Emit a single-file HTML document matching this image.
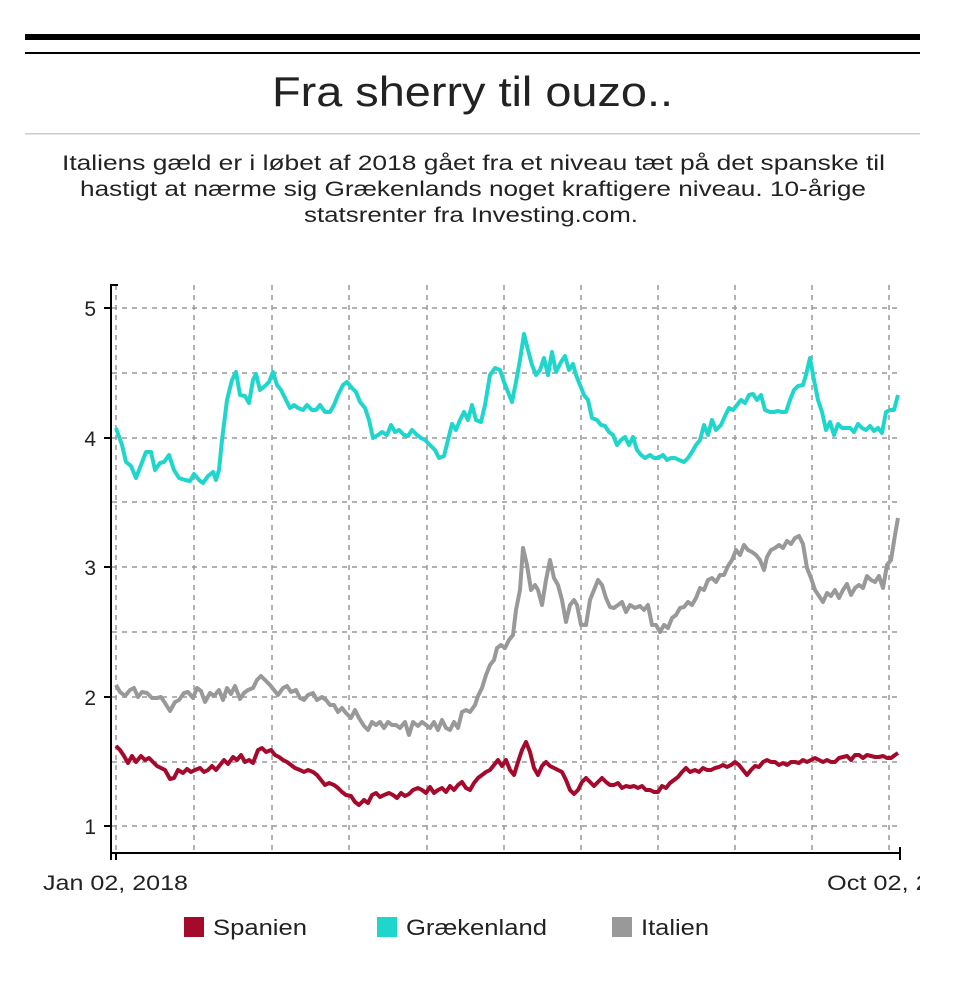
<!DOCTYPE html>
<html><head><meta charset="utf-8"><style>
body{margin:0;background:#fff;width:960px;height:1001px;overflow:hidden;font-family:"Liberation Sans",Arial,sans-serif;}
</style></head><body>
<svg width="960" height="1001" xmlns="http://www.w3.org/2000/svg" font-family="Liberation Sans, Arial, sans-serif">
<rect x="25" y="34" width="895" height="6" fill="#000"/>
<rect x="25" y="52" width="895" height="2" fill="#000"/>
<text x="272" y="106" font-size="42" textLength="401" lengthAdjust="spacingAndGlyphs" fill="#222">Fra sherry til ouzo..</text>
<rect x="25" y="133" width="895" height="1.5" fill="#ccc"/>
<g font-size="21" fill="#222">
<text x="62" y="170" textLength="823" lengthAdjust="spacingAndGlyphs">Italiens gæld er i løbet af 2018 gået fra et niveau tæt på det spanske til</text>
<text x="80" y="196" textLength="786" lengthAdjust="spacingAndGlyphs">hastigt at nærme sig Grækenlands noget kraftigere niveau. 10-årige</text>
<text x="304" y="222" textLength="334" lengthAdjust="spacingAndGlyphs">statsrenter fra Investing.com.</text>
</g>
<g stroke="#999" stroke-width="1.5" stroke-dasharray="5,5">
<line x1="112" x2="900" y1="308" y2="308"/><line x1="112" x2="900" y1="373" y2="373"/>
<line x1="112" x2="900" y1="438" y2="438"/><line x1="112" x2="900" y1="502" y2="502"/>
<line x1="112" x2="900" y1="567" y2="567"/><line x1="112" x2="900" y1="632" y2="632"/>
<line x1="112" x2="900" y1="697" y2="697"/><line x1="112" x2="900" y1="762" y2="762"/>
<line x1="112" x2="900" y1="826" y2="826"/>
<line x1="116" x2="116" y1="285" y2="853"/><line x1="194" x2="194" y1="285" y2="853"/>
<line x1="272" x2="272" y1="285" y2="853"/><line x1="349" x2="349" y1="285" y2="853"/>
<line x1="427" x2="427" y1="285" y2="853"/><line x1="504" x2="504" y1="285" y2="853"/>
<line x1="581" x2="581" y1="285" y2="853"/><line x1="658" x2="658" y1="285" y2="853"/>
<line x1="735" x2="735" y1="285" y2="853"/><line x1="812" x2="812" y1="285" y2="853"/>
<line x1="889" x2="889" y1="285" y2="853"/>
</g>
<g stroke="#000" stroke-width="2" fill="none">
<path d="M118,285H111V853H900V847"/>
<path d="M104,308H111M104,438H111M104,567H111M104,697H111M104,826H111"/>
<path d="M111,853V860M116,853V860M900,853V860"/>
</g>
<g font-size="21" fill="#222" text-anchor="end">
<text x="96" y="316">5</text><text x="96" y="446">4</text><text x="96" y="575">3</text><text x="96" y="705">2</text><text x="96" y="834">1</text>
</g>
<text x="43" y="890" font-size="21" fill="#222" textLength="145" lengthAdjust="spacingAndGlyphs">Jan 02, 2018</text>
<text x="827" y="890" font-size="21" fill="#222" textLength="145" lengthAdjust="spacingAndGlyphs">Oct 02, 2018</text>
<rect x="920" y="860" width="40" height="40" fill="#fff"/>
<g fill="none" stroke-width="4" stroke-linejoin="round">
<polyline stroke="#1ed6cc" points="116,428 122,445 126,462 131,466 136,478 141,465 146,452 151,452 155,470 160,463 164,462 169,455 174,470 179,478 185,480 190,481 194,474 199,480 203,483 208,476 213,472 216,480 219,470 222,440 227,400 232,380 236,372 240,395 245,396 249,403 253,380 256,374 260,390 265,386 269,382 273,372 277,385 281,390 286,400 290,408 294,405 298,408 303,410 307,405 312,410 316,410 320,405 325,412 330,412 334,405 338,395 343,385 347,382 352,388 356,392 360,402 365,408 369,420 373,438 378,435 382,432 387,435 391,425 395,432 399,430 404,435 408,436 412,430 417,435 421,438 425,440 430,445 435,450 439,458 444,456 448,440 452,424 456,430 460,420 464,412 468,420 472,405 476,420 481,422 485,405 490,375 495,368 500,370 504,382 508,392 512,402 516,382 520,360 524,334 528,350 532,365 536,375 540,370 544,358 548,375 552,352 556,372 561,362 565,356 569,370 573,364 576,375 580,385 584,395 588,400 592,418 597,420 601,425 605,426 609,432 613,435 617,445 621,440 625,437 629,445 633,437 637,450 641,455 645,458 650,455 654,458 658,458 663,455 667,460 671,458 675,458 679,460 684,462 688,458 692,452 696,445 700,440 704,425 708,435 712,420 716,430 721,425 725,416 729,408 733,410 737,405 741,400 745,403 749,395 753,394 757,400 761,395 765,410 770,412 774,412 778,411 782,412 786,412 790,400 794,390 798,386 803,385 806,375 810,358 814,380 818,400 822,412 826,430 830,422 834,435 838,424 842,428 846,428 850,428 854,432 858,424 862,428 866,430 870,426 874,431 878,428 882,433 886,412 890,410 894,410 898,395"/>
<polyline stroke="#999" points="116,685 120,692 125,696 130,690 134,688 138,697 142,692 147,693 152,698 157,698 161,697 165,703 170,711 175,702 179,700 184,693 188,692 193,698 197,688 201,691 205,702 210,693 214,696 219,690 223,700 227,688 231,694 235,686 240,699 244,693 248,690 253,688 257,680 261,676 265,680 270,685 274,690 278,695 283,688 287,686 291,692 296,690 300,698 304,700 308,695 313,693 317,700 322,697 326,700 330,705 334,705 338,712 342,708 346,713 351,718 355,710 359,718 364,726 368,730 372,722 376,725 380,722 384,728 388,722 392,725 396,725 400,728 405,722 409,735 413,722 418,726 422,722 426,725 430,728 434,722 438,730 442,720 446,728 450,730 454,722 458,728 462,712 466,710 470,712 475,705 478,696 482,688 486,675 490,665 494,660 497,648 501,645 505,648 509,640 513,635 516,610 520,590 523,548 527,565 531,590 535,585 538,590 542,605 546,580 550,560 554,578 558,585 562,600 566,622 570,605 574,600 577,605 581,625 586,625 590,600 594,590 598,580 602,585 606,598 610,607 614,608 618,605 622,602 626,612 630,605 635,608 640,606 644,610 648,605 652,625 656,625 660,632 664,625 668,628 672,618 676,615 680,608 684,607 688,602 692,605 696,598 700,588 704,590 708,580 712,578 716,582 720,575 724,575 728,566 732,560 736,550 740,555 744,545 748,550 752,552 756,555 760,560 764,570 767,557 771,550 775,548 779,545 783,548 787,541 791,544 795,538 799,536 803,544 807,568 811,578 815,590 819,596 823,602 827,593 831,596 835,590 839,598 843,590 847,584 851,595 855,588 859,585 863,588 867,576 871,580 875,582 879,576 883,588 887,565 891,560 895,535 898,518"/>
<polyline stroke="#a50a2d" points="116,746 120,750 124,756 128,763 132,756 136,762 141,756 145,760 149,758 153,762 157,766 161,768 165,770 170,779 174,778 178,770 183,773 187,769 191,772 195,770 200,768 204,772 208,770 212,766 216,770 220,765 224,760 228,764 233,757 237,760 241,755 245,762 249,760 253,763 258,750 262,748 266,752 271,750 275,755 279,757 283,760 287,762 291,765 295,768 300,770 304,772 308,770 313,772 317,775 321,780 325,785 329,783 334,785 338,788 342,792 346,795 351,796 355,802 359,805 364,800 368,803 372,795 376,793 380,797 384,795 389,793 393,795 397,798 401,793 405,796 409,794 413,790 418,788 422,790 426,793 430,787 434,793 438,790 442,788 446,792 450,786 454,790 458,785 462,782 466,788 470,790 474,783 478,778 482,775 486,772 490,770 494,765 498,760 502,766 506,760 510,770 514,775 518,762 522,750 526,742 530,752 534,768 538,775 542,766 546,762 550,766 554,768 558,770 562,772 566,780 570,790 574,794 578,790 582,782 586,778 590,782 594,786 598,782 602,778 606,782 610,785 614,785 618,783 622,788 626,786 630,787 634,786 638,788 642,786 646,790 650,790 654,792 658,792 662,786 666,788 670,783 674,780 678,777 682,772 686,768 690,772 695,770 699,772 703,768 707,770 711,770 715,768 719,767 723,765 727,767 731,765 735,762 739,765 743,770 747,775 751,770 755,766 759,767 763,762 767,760 771,762 775,762 779,765 783,763 787,765 791,762 795,762 799,763 803,760 807,762 811,760 815,758 819,760 823,762 827,760 831,762 835,762 839,758 843,757 847,756 851,760 855,755 859,755 863,758 867,755 871,756 875,757 879,757 883,756 887,758 891,758 895,755 898,753"/>
</g>
<g font-size="22" fill="#222">
<rect x="184" y="917" width="20" height="20" fill="#a50a2d"/><text x="213" y="935" textLength="94" lengthAdjust="spacingAndGlyphs">Spanien</text>
<rect x="377" y="917" width="20" height="20" fill="#1ed6cc"/><text x="406" y="935" textLength="141" lengthAdjust="spacingAndGlyphs">Grækenland</text>
<rect x="612" y="917" width="20" height="20" fill="#999"/><text x="641" y="935" textLength="68" lengthAdjust="spacingAndGlyphs">Italien</text>
</g>
</svg>
</body></html>
